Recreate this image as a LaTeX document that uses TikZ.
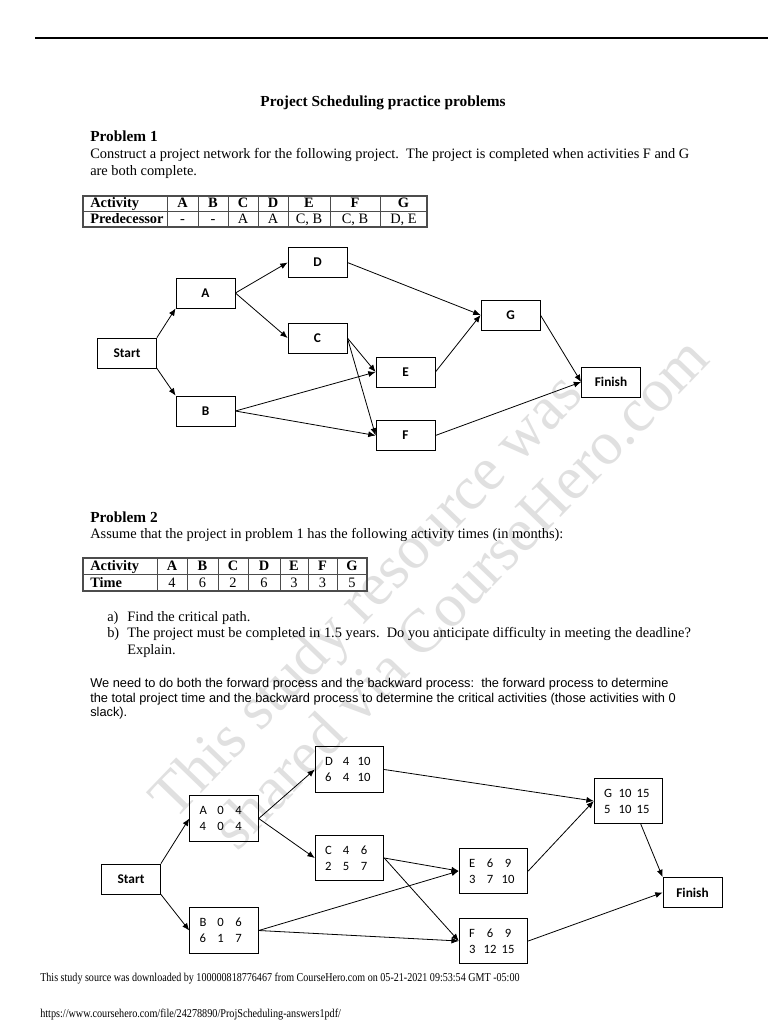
\documentclass[tikz,border=0pt]{standalone}
\usepackage{fontspec}
\setmainfont{Liberation Serif}
\setsansfont{Liberation Sans}
\newfontfamily\calfont{Carlito}
\usetikzlibrary{arrows.meta,positioning,calc}

\newcommand\boxrow[3]{\makebox[9.75pt][l]{#1}\makebox[12pt]{#2}\makebox[15pt]{#3}}

\begin{document}
\begin{tikzpicture}[x=0.75pt,y=-0.75pt,>={Latex[length=5.5pt,width=4.5pt]},
  txt/.style={anchor=base west,inner sep=0,font=\fontsize{10.8}{13}\selectfont},
  head/.style={anchor=base west,inner sep=0,font=\fontsize{11.5}{14}\selectfont\bfseries},
  cell/.style={anchor=base,inner sep=0,font=\fontsize{10.8}{13}\selectfont},
  cellb/.style={cell,font=\fontsize{10.8}{13}\selectfont\bfseries},
  tabline/.style={draw=black!70,line width=0.5pt},
  act/.style={draw,line width=0.6pt,minimum width=44.25pt,minimum height=22.5pt,inner sep=0,
    font=\calfont\bfseries\fontsize{10}{12}\selectfont},
  est/.style={draw,line width=0.6pt,minimum width=51.5pt,minimum height=34pt,inner sep=0,
    align=left,font=\calfont\fontsize{9.5}{12}\selectfont},
  link/.style={->,line width=0.6pt},
  small/.style={anchor=base west,inner sep=0,font=\fontsize{9}{11}\selectfont}]
\useasboundingbox (0,0) rectangle (768,1024);
\fill[white] (0,0) rectangle (768,1024);

% watermark
\node[text=black!12,font=\fontsize{46}{50}\selectfont,align=left,rotate=46] (wm) at (428,577)
  {This study resource was\\\hspace*{16pt}shared via CourseHero.com};

\draw[line width=1.2pt] (35,38) -- (768,38);

\node[anchor=base,inner sep=0,font=\fontsize{11.5}{13.8}\selectfont\bfseries] (title) at (383,106)
  {Project Scheduling practice problems};

% problem 1
\node[head] (p1) at (90,141) {Problem 1};
\node[txt] (p1a) at (90,158) {Construct a project network for the following project.\ \ The project is completed when activities F and G};
\node[txt] (p1b) at (90,175) {are both complete.};

\draw[tabline,line width=0.8pt] (83,196) rectangle (427,227);
\draw[tabline] (83,211.5) -- (427,211.5);
\foreach \x in {167,198,228,258,288,330,380} \draw[tabline] (\x,196) -- (\x,227);
\node[cellb,anchor=base west] (t1h) at (90,207) {Activity};
\node[cellb,anchor=base west] (t1p) at (90,223) {Predecessor};
\foreach \c/\x/\h/\v in {a/182.5/A/-,b/213/B/-,c/243/C/A,d/273/D/A,e/309/E/{C, B},f/355/F/{C, B},g/403.5/G/{D, E}} {
  \node[cellb] (t1h\c) at (\x,207) {\h};
  \node[cell] (t1v\c) at (\x,223) {\v};
}

% network 1
\node[act] (st1) at (127,353) {Start};
\node[act] (a1) at (205.5,293) {A};
\node[act] (b1) at (205.5,411) {B};
\node[act] (d1) at (317.5,262.5) {D};
\node[act] (c1) at (317.5,338) {C};
\node[act] (e1) at (405.5,372) {E};
\node[act] (f1) at (405.5,435.5) {F};
\node[act] (g1) at (510.5,315) {G};
\node[act] (fin1) at (611,382) {Finish};

\draw[link] (st1.north east) -- (a1.south west);
\draw[link] (st1.south east) -- (b1.north west);
\draw[link] (a1.east) -- (d1.west);
\draw[link] (a1.east) -- (c1.west);
\draw[link] (d1.east) -- (g1.west);
\draw[link] (c1.east) -- (e1.west);
\draw[link] (c1.east) -- (f1.west);
\draw[link] (b1.east) -- (e1.west);
\draw[link] (b1.east) -- (f1.west);
\draw[link] (e1.east) -- (g1.west);
\draw[link] (g1.east) -- (fin1.west);
\draw[link] (f1.east) -- (fin1.west);

% problem 2
\node[head] (p2) at (90,522) {Problem 2};
\node[txt] (p2a) at (90,538) {Assume that the project in problem 1 has the following activity times (in months):};

\draw[tabline,line width=0.8pt] (83,558) rectangle (367,591);
\draw[tabline] (83,574.5) -- (367,574.5);
\foreach \x in {157,187,218,248,280,308,337} \draw[tabline] (\x,558) -- (\x,591);
\node[cellb,anchor=base west] (t2h) at (90,570) {Activity};
\node[cellb,anchor=base west] (t2t) at (90,587) {Time};
\foreach \c/\x/\h/\v in {a/172/A/4,b/202.5/B/6,c/233/C/2,d/264/D/6,e/294/E/3,f/322.5/F/3,g/352/G/5} {
  \node[cellb] (t2h\c) at (\x,570) {\h};
  \node[cell] (t2v\c) at (\x,587) {\v};
}

\node[txt] (qa) at (107,621) {a)};
\node[txt] (qat) at (127,621) {Find the critical path.};
\node[txt] (qb) at (107,637) {b)};
\node[txt] (qbt) at (127,637) {The project must be completed in 1.5 years.\ \ Do you anticipate difficulty in meeting the deadline?};
\node[txt] (qbu) at (127,654) {Explain.};

\node[txt,font=\sffamily\fontsize{9.6}{11.5}\selectfont] (ans1) at (90,687)
  {We need to do both the forward process and the backward process:\ \ the forward process to determine};
\node[txt,font=\sffamily\fontsize{9.6}{11.5}\selectfont] (ans2) at (90,702)
  {the total project time and the backward process to determine the critical activities (those activities with 0};
\node[txt,font=\sffamily\fontsize{9.6}{11.5}\selectfont] (ans3) at (90,716) {slack).};

% network 2
\node[act] (st2) at (131,879) {Start};
\node[est] (a2) at (224,818.5) {\boxrow{A}{0}{4}\\\boxrow{4}{0}{4}};
\node[est] (b2) at (224,930.5) {\boxrow{B}{0}{6}\\\boxrow{6}{1}{7}};
\node[est] (d2) at (349.5,769.5) {\boxrow{D}{4}{10}\\\boxrow{6}{4}{10}};
\node[est] (c2) at (349.5,858) {\boxrow{C}{4}{6}\\\boxrow{2}{5}{7}};
\node[est] (e2) at (493.5,871) {\boxrow{E}{6}{9}\\\boxrow{3}{7}{10}};
\node[est] (f2) at (493.5,941) {\boxrow{F}{6}{9}\\\boxrow{3}{12}{15}};
\node[est] (g2) at (628.5,801) {\boxrow{G}{10}{15}\\\boxrow{5}{10}{15}};
\node[act] (fin2) at (692.5,892.5) {Finish};

\draw[link] (st2.north east) -- (a2.west);
\draw[link] (st2.south east) -- (b2.west);
\draw[link] (a2.east) -- (d2.west);
\draw[link] (a2.east) -- (c2.west);
\draw[link] (d2.east) -- (g2.west);
\draw[link] (c2.east) -- (e2.west);
\draw[link] (c2.east) -- (f2.west);
\draw[link] (b2.east) -- (e2.west);
\draw[link] (b2.east) -- (f2.west);
\draw[link] (e2.east) -- (g2.west);
\draw[link] (g2.-62) -- (fin2.north west);
\draw[link] (f2.east) -- (fin2.west);

% footer
\node[small] (foot) at (40,981) {\scalebox{0.84}[1]{This study source was downloaded by 100000818776467 from CourseHero.com on 05-21-2021 09:53:54 GMT -05:00}};
\node[small] (url) at (40,1017) {\scalebox{0.85}[1]{https://www.coursehero.com/file/24278890/ProjScheduling-answers1pdf/}};
\end{tikzpicture}
\end{document}
